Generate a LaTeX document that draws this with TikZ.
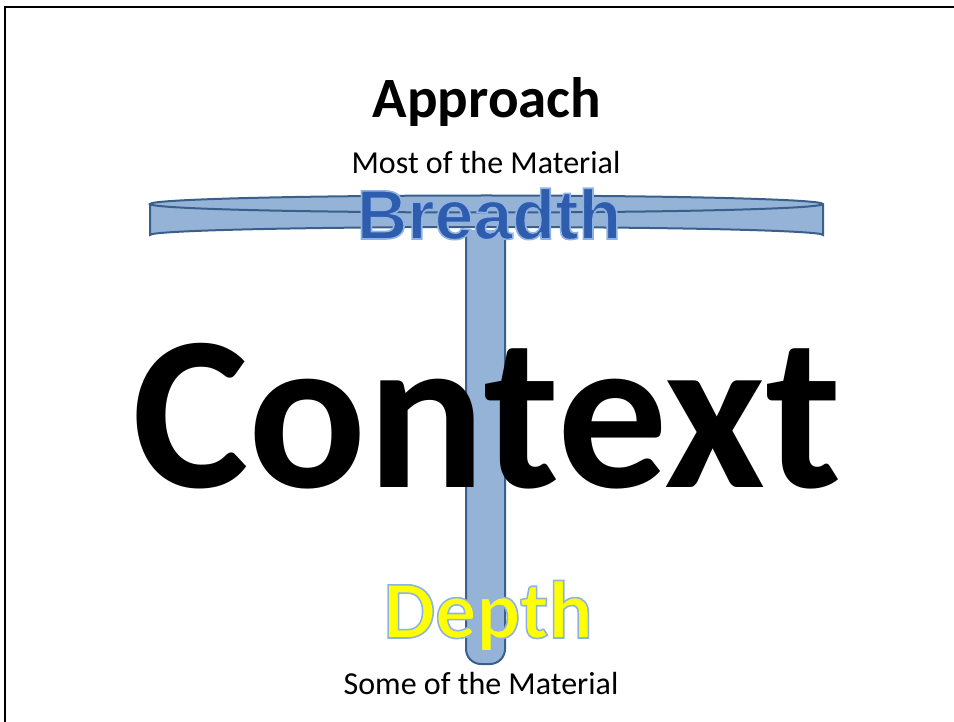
\documentclass[tikz,border=0pt]{standalone}
\usepackage{fontspec}
\setmainfont{Carlito}
\newfontfamily\widefont{Liberation Sans}
\usepackage{tikz}
\definecolor{tfill}{HTML}{95B3D7}
\definecolor{tline}{HTML}{3A5F8B}
\definecolor{wordblue}{HTML}{2F5DAE}
\definecolor{wordyellow}{HTML}{FFFF00}
% outlined text (fill + stroke)
\newcommand{\rimtext}[1]{\special{pdf:literal direct 2 Tr 1.6 w 0.56 0.70 0.90 RG}#1\special{pdf:literal direct 0 Tr}}
\tikzstyle{frame} = [line width=2pt, black]
\tikzstyle{barpart} = [fill=tfill, draw=tline, line width=2pt]
\tikzstyle{heading} = [anchor=base, inner sep=0pt, font=\fontsize{57}{60}\selectfont\bfseries]
\tikzstyle{subtext} = [anchor=base, inner sep=0pt, font=\fontsize{32}{34}\selectfont]
\tikzstyle{bigword} = [anchor=base, inner sep=0pt, font=\fontsize{220}{222}\selectfont\bfseries]

\begin{document}
\begin{tikzpicture}[x=1pt, y=-1pt]
\useasboundingbox (0,0) rectangle (954,722);

% slide border
\draw [frame] (5,722) -- (5,7) -- (956,7);

% the T
\draw [barpart, rounded corners=15pt] (466,230) -- (466,664) -- (505,664) -- (505,230);
\draw [barpart] (150,204) -- (150,235) arc [start angle=180, end angle=360, x radius=336.5, y radius=8]
  -- (823,204) arc [start angle=0, end angle=-360, x radius=336.5, y radius=8.5];

% texts
\node [heading] (approach) at (487,118) {Approach};
\node [subtext] (most) at (486,174) {Most of the Material};
\node [anchor=base, inner sep=0pt, text=wordblue] (breadth) at (489,239)
  {\fontsize{70}{72}\selectfont\widefont\bfseries\rimtext{Breadth}};
\node [bigword] (context) at (487,487) {Context};
\node [anchor=base, inner sep=0pt, text=wordyellow] (depth) at (488,638)
  {\fontsize{82}{84}\selectfont\bfseries\rimtext{Depth}};
\node [subtext] (some) at (481,694) {Some of the Material};

\end{tikzpicture}
\end{document}
